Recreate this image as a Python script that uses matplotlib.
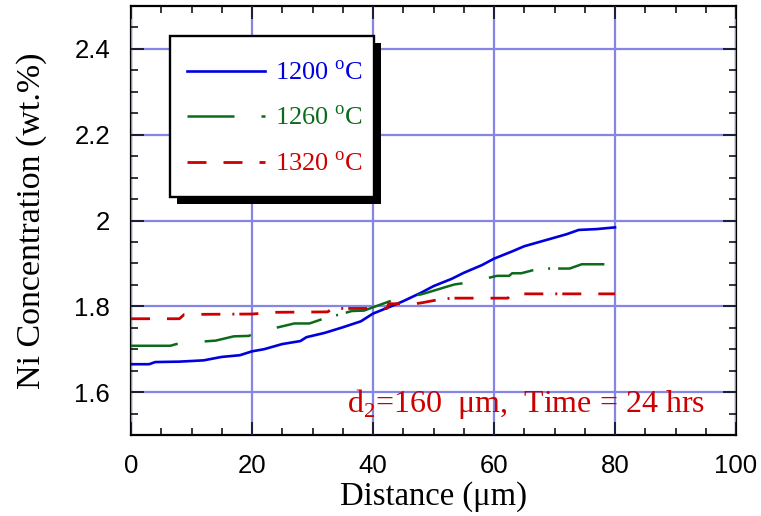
import matplotlib
matplotlib.use("Agg")
import matplotlib.pyplot as plt
from matplotlib.patches import Rectangle
from matplotlib.ticker import MultipleLocator

# ---- data ----
x_1200 = [0, 3, 4, 8, 12, 15, 18, 20, 22, 25, 28, 29, 32, 35, 38, 40, 43, 45,
          48, 50, 53, 55, 58, 60, 63, 65, 68, 70, 72, 74, 77, 80]
y_1200 = [1.665, 1.665, 1.670, 1.671, 1.674, 1.682, 1.686, 1.695, 1.700, 1.712,
          1.719, 1.728, 1.738, 1.751, 1.765, 1.783, 1.800, 1.812, 1.832, 1.847,
          1.864, 1.878, 1.896, 1.911, 1.928, 1.940, 1.952, 1.960, 1.968, 1.978,
          1.980, 1.984]

x_1260 = [0, 6.5, 7.5, 12, 14, 17, 19.5, 20, 24, 27, 29.5, 32, 34.5, 36.5, 38.5,
          44, 48, 49, 52.5, 53.5, 56, 60.5, 62.5, 63, 64.5, 67.5, 72.5, 73.5, 74.5, 80]
y_1260 = [1.708, 1.708, 1.712, 1.718, 1.720, 1.730, 1.731, 1.735, 1.750, 1.760,
          1.760, 1.772, 1.781, 1.789, 1.790, 1.818, 1.828, 1.832, 1.847, 1.851,
          1.856, 1.871, 1.871, 1.877, 1.877, 1.888, 1.888, 1.893, 1.898, 1.898]

x_1320 = [0, 8.0, 8.8, 20, 24, 32.5, 33.3, 42.3, 42.6, 47, 48, 51, 53, 62.3, 62.8, 80]
y_1320 = [1.771, 1.771, 1.781, 1.782, 1.786, 1.787, 1.795, 1.795, 1.806, 1.806,
          1.808, 1.816, 1.819, 1.819, 1.829, 1.829]

labels = ["1200 $^\\mathregular{o}$C", "1260 $^\\mathregular{o}$C", "1320 $^\\mathregular{o}$C"]
colors = ["#0000dd", "#0b6b1b", "#cc0000"]
x_ticks = [0, 20, 40, 60, 80, 100]
y_ticks = [1.6, 1.8, 2.0, 2.2, 2.4]
y_tick_labels = ["1.6", "1.8", "2", "2.2", "2.4"]
annotation = "d$_\\mathregular{2}$=160  \u03bcm,  Time = 24 hrs"

# ---- style ----
plt.rcParams["lines.scale_dashes"] = False
plt.rcParams["mathtext.fontset"] = "custom"
plt.rcParams["mathtext.rm"] = "Liberation Serif"
SERIF = "Liberation Serif"
SANS = "Liberation Sans"
px = 0.72  # points per pixel at dpi 100
W, H = 761, 516

fig = plt.figure(figsize=(7.61, 5.16), dpi=100)
ax = fig.add_axes([131 / W, 81 / H, 605 / W, 429 / H])

dash_1260 = [v * px for v in [47, 27, 47, 27, 46, 15, 2, 8]]
dash_1320 = [v * px for v in [19, 17, 19, 17, 19, 12, 2, 5]]

l1, = ax.plot(x_1200, y_1200, color=colors[0], lw=1.9, label=labels[0], zorder=4)
l2, = ax.plot(x_1260, y_1260, color=colors[1], lw=1.8, label=labels[1], zorder=4)
l2.set_dashes(dash_1260)
l3, = ax.plot(x_1320, y_1320, color=colors[2], lw=2.0, label=labels[2], zorder=4)
l3.set_dashes(dash_1320)

ax.set_xlim(0, 100)
ax.set_ylim(1.5, 2.5)
ax.set_xticks(x_ticks)
ax.set_yticks(y_ticks)
ax.set_yticklabels(y_tick_labels)
ax.xaxis.set_minor_locator(MultipleLocator(5))
ax.yaxis.set_minor_locator(MultipleLocator(0.05))
ax.grid(True, which="major", color="#8585e6", lw=1.6, zorder=1)
ax.set_axisbelow(False)
ax.tick_params(which="both", direction="in", top=True, right=True, width=1.1, color="black")
ax.tick_params(which="major", length=9.5)
ax.tick_params(which="minor", length=5)
ax.tick_params(axis="x", which="major", pad=14)
ax.tick_params(axis="y", which="major", pad=15)
for lab in ax.get_xticklabels() + ax.get_yticklabels():
    lab.set_fontfamily(SANS)
    lab.set_fontsize(18.5)
for sp in ax.spines.values():
    sp.set_linewidth(1.6)
    sp.set_zorder(2)

ax.set_xlabel("Distance (\u03bcm)", fontfamily=SERIF, fontsize=23.5, labelpad=2)
ax.set_ylabel("Ni Concentration (wt.%)", fontfamily=SERIF, fontsize=24.5, labelpad=20)

ax.text((347 - 131) / 605, (435 - 412) / 429, annotation, transform=ax.transAxes,
        color="#cc0000", fontfamily=SERIF, fontsize=23, va="baseline", ha="left", zorder=5)

# legend frame + shadow (figure-pixel placement)
bx0, by0, bx1, by1 = 170, 36, 374, 197
sh = 7
fig.patches.append(Rectangle(((bx0 + sh) / W, 1 - (by1 + sh) / H), (bx1 - bx0) / W, (by1 - by0) / H,
                             transform=fig.transFigure, facecolor="black", edgecolor="none", zorder=9))
fig.patches.append(Rectangle((bx0 / W, 1 - by1 / H), (bx1 - bx0) / W, (by1 - by0) / H,
                             transform=fig.transFigure, facecolor="white", edgecolor="black",
                             lw=1.7, zorder=9.5))

leg = fig.legend(handles=[l1, l2, l3], loc="upper left",
                 bbox_to_anchor=(187 / W, 1 - 61 / H), bbox_transform=fig.transFigure,
                 borderaxespad=0, borderpad=0, frameon=False,
                 prop={"family": SERIF, "size": 19},
                 handlelength=2.95, handletextpad=0.4, labelspacing=0.81)
leg.set_zorder(10)
for t, c in zip(leg.get_texts(), colors):
    t.set_color(c)

fig.savefig("out.png", dpi=100)
